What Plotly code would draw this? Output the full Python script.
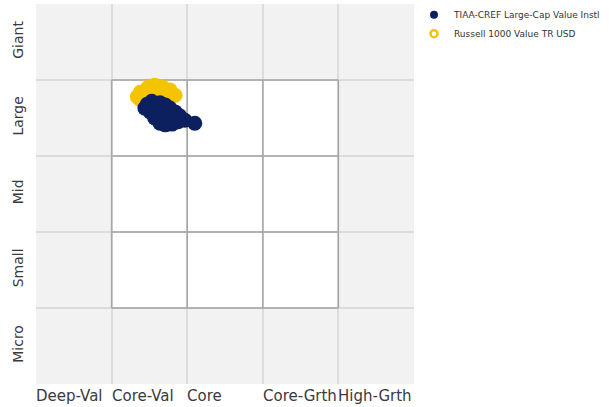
import plotly.graph_objects as go

# style box categories
style_labels = ["Deep-Val", "Core-Val", "Core", "Core-Grth", "High-Grth"]
size_labels = ["Micro", "Small", "Mid", "Large", "Giant"]

# holdings-based style trail (style score, size score)
fund_name = "TIAA-CREF Large-Cap Value Instl"
fund_x = [1.47, 1.53, 1.64, 1.71, 1.77, 1.84, 1.90, 1.97, 2.10, 1.51,
          1.57, 1.64, 1.71, 1.80, 1.88, 1.61, 1.75, 1.44]
fund_y = [3.68, 3.72, 3.70, 3.67, 3.63, 3.58, 3.53, 3.47, 3.43, 3.58,
          3.50, 3.43, 3.41, 3.42, 3.45, 3.61, 3.54, 3.63]

bench_name = "Russell 1000 Value TR USD"
bench_x = [1.38, 1.48, 1.57, 1.67, 1.77, 1.84, 1.38, 1.34, 1.53, 1.71]
bench_y = [3.84, 3.90, 3.93, 3.91, 3.87, 3.80, 3.74, 3.78, 3.84, 3.83]

navy = "#0c1f5e"
gold = "#f5c400"
text_col = "#3a3a3a"

fig = go.Figure()

# benchmark first so the fund sits on top
fig.add_trace(go.Scatter(x=bench_x, y=bench_y, mode="markers", showlegend=False,
                         marker=dict(size=15, color=gold, line=dict(width=0))))
fig.add_trace(go.Scatter(x=fund_x, y=fund_y, mode="markers", showlegend=False,
                         marker=dict(size=15, color=navy, line=dict(width=0))))

# legend entries
fig.add_trace(go.Scatter(x=[None], y=[None], mode="markers", name=fund_name,
                         marker=dict(size=8, color=navy)))
fig.add_trace(go.Scatter(x=[None], y=[None], mode="markers", name=bench_name,
                         marker=dict(size=7, symbol="circle-open", color=gold,
                                     line=dict(width=2.5, color=gold))))

# white 3x3 style box with darker lines
shapes = [dict(type="rect", x0=1, x1=4, y0=1, y1=4, xref="x", yref="y",
               fillcolor="white", line=dict(width=0), layer="below")]
for v in [1, 2, 3, 4]:
    shapes.append(dict(type="line", x0=v, x1=v, y0=1, y1=4, xref="x", yref="y",
                       line=dict(color="#a6a6a6", width=1.5), layer="between"))
    shapes.append(dict(type="line", x0=1, x1=4, y0=v, y1=v, xref="x", yref="y",
                       line=dict(color="#a6a6a6", width=1.5), layer="between"))

# x labels sit left-aligned at each column edge
annotations = []
for i, lab in enumerate(style_labels):
    annotations.append(dict(x=i, y=0, xref="x", yref="paper", text=lab,
                            showarrow=False, xanchor="left", yanchor="top",
                            yshift=-1, xshift=-2,
                            font=dict(family="DejaVu Sans", size=15, color=text_col)))

fig.update_layout(
    width=609, height=407,
    margin=dict(l=36, r=195, t=4, b=23, autoexpand=False),
    paper_bgcolor="white",
    plot_bgcolor="#f2f2f2",
    font=dict(family="DejaVu Sans", size=14, color=text_col),
    shapes=shapes,
    annotations=annotations,
    legend=dict(x=1.0, y=1.01, xanchor="left", yanchor="top",
                font=dict(family="DejaVu Sans", size=9, color="#333333"),
                bgcolor="rgba(0,0,0,0)", itemwidth=30, tracegroupgap=2),
    xaxis=dict(range=[0, 5], tickvals=[1, 2, 3, 4], showticklabels=False,
               showgrid=True, gridcolor="#dcdcdc", gridwidth=1.5,
               zeroline=False, showline=False, fixedrange=True, automargin=False),
    yaxis=dict(range=[0, 5], showgrid=False, zeroline=False, showline=False,
               tickvals=[0.5, 1.5, 2.5, 3.5, 4.5], ticktext=size_labels,
               tickangle=-90, ticks="", ticklabelstandoff=9, automargin=False,
               tickfont=dict(size=14, color=text_col)),
)

# horizontal grid lines at the row edges (light gray)
fig.update_yaxes(minor=dict(tickvals=[1, 2, 3, 4], showgrid=True,
                            gridcolor="#dcdcdc", gridwidth=1.5, ticks=""))

# drop the browser's default page margin so the chart fills the window
fig.write_html("out.html", config={"displayModeBar": False},
               post_script="document.body.style.margin='0';")
